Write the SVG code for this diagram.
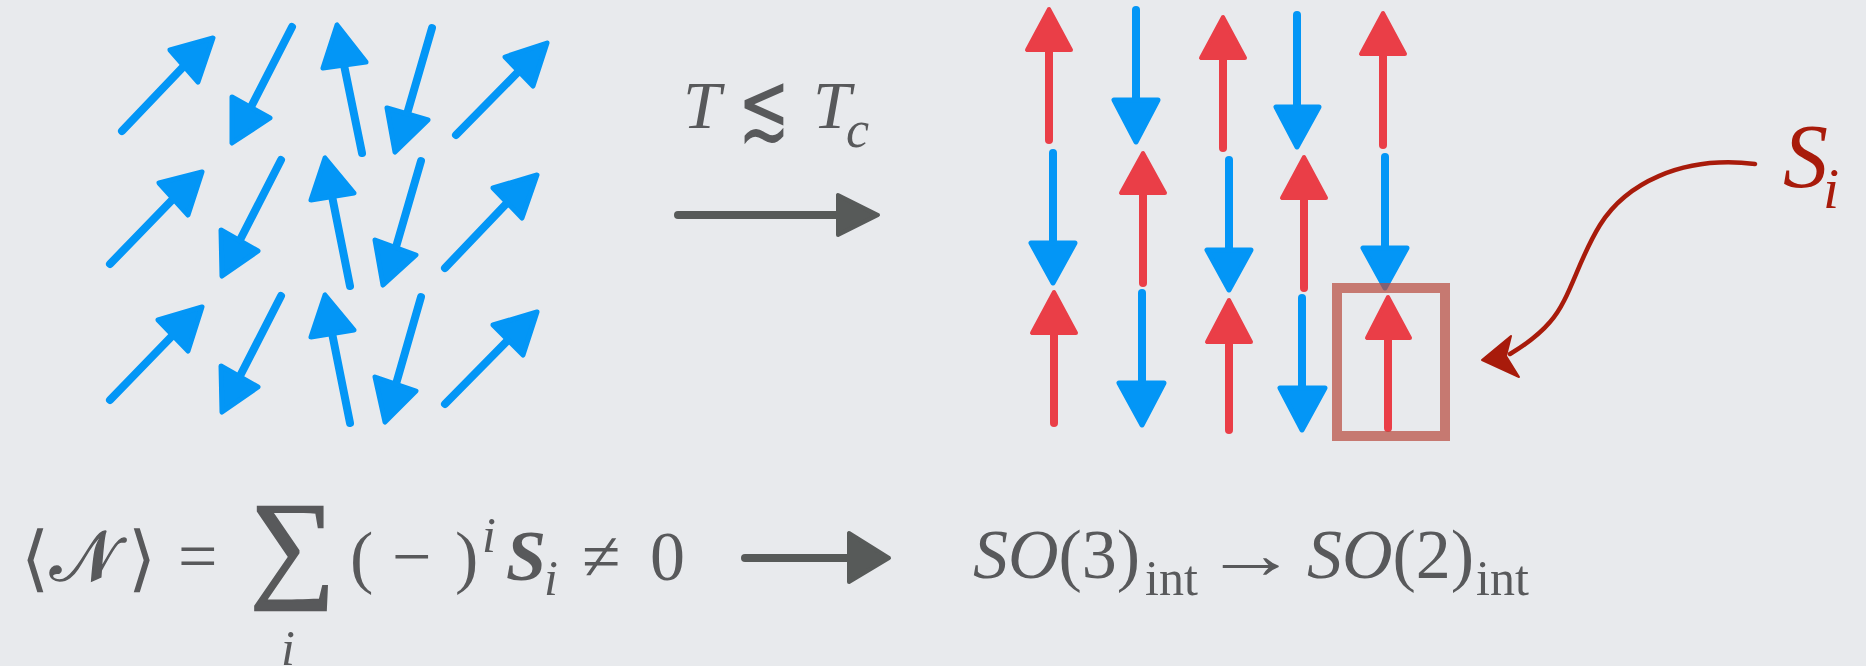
<svg xmlns="http://www.w3.org/2000/svg" width="1866" height="666" viewBox="0 0 1866 666">
<style>
.bl{fill:#0396f6;stroke:#0396f6;stroke-width:5;stroke-linejoin:round}
.bs{stroke:#0396f6;stroke-width:8;stroke-linecap:round;fill:none}
.rd{fill:#ea3e47;stroke:#ea3e47;stroke-width:4;stroke-linejoin:round}
.rs{stroke:#ea3e47;stroke-width:8;stroke-linecap:round;fill:none}
.gy{fill:#575a59;stroke:#575a59;stroke-width:4;stroke-linejoin:round}
.gs{stroke:#575a59;stroke-width:8;stroke-linecap:round;fill:none}
.tx{font-family:"Liberation Serif","DejaVu Serif",serif;fill:#58595b}
.it{font-style:italic}
</style>
<rect width="1866" height="666" fill="#e8eaed"/>

<g id="disordered-spins">
<line class="bs" x1="122" y1="131" x2="184" y2="66"/><polygon class="bl" points="213,38 170,50 198,82"/>
<line class="bs" x1="292" y1="27" x2="251" y2="107"/><polygon class="bl" points="232,143 232,97 270,118"/>
<line class="bs" x1="362" y1="153" x2="344" y2="65"/><polygon class="bl" points="337,25 323,68 366,62"/>
<line class="bs" x1="432" y1="28" x2="407" y2="114"/><polygon class="bl" points="395,152 387,108 428,120"/>
<line class="bs" x1="456" y1="135" x2="519" y2="71"/><polygon class="bl" points="547,43 505,57 533,86"/>

<line class="bs" x1="110" y1="264" x2="173" y2="199"/><polygon class="bl" points="202,172 159,183 188,215"/>
<line class="bs" x1="281" y1="160" x2="240" y2="240"/><polygon class="bl" points="222,276 221,230 258,251"/>
<line class="bs" x1="350" y1="286" x2="332" y2="196"/><polygon class="bl" points="325,158 311,200 354,193"/>
<line class="bs" x1="421" y1="161" x2="396" y2="247"/><polygon class="bl" points="383,285 375,240 416,255"/>
<line class="bs" x1="445" y1="268" x2="507" y2="203"/><polygon class="bl" points="537,175 493,188 522,218"/>

<line class="bs" x1="110" y1="400" x2="173" y2="335"/><polygon class="bl" points="202,307 158,320 188,351"/>
<line class="bs" x1="281" y1="296" x2="240" y2="376"/><polygon class="bl" points="222,412 221,366 258,387"/>
<line class="bs" x1="350" y1="423" x2="332" y2="333"/><polygon class="bl" points="325,295 311,337 354,330"/>
<line class="bs" x1="421" y1="297" x2="396" y2="384"/><polygon class="bl" points="385,422 375,377 416,391"/>
<line class="bs" x1="445" y1="404" x2="508" y2="340"/><polygon class="bl" points="537,312 493,325 523,355"/>
</g>

<g id="label-T">
<text class="tx it" x="683" y="128" font-size="68">T</text>
<text class="tx" transform="translate(764,139) scale(1,1.55)" font-size="62" text-anchor="middle" style="font-family:'DejaVu Serif',serif">≲</text>
<text class="tx it" x="813" y="128" font-size="68">T</text>
<text class="tx it" x="846" y="147" font-size="52">c</text>
</g>

<g id="connectors">
<line class="gs" x1="678" y1="215" x2="840" y2="215"/><polygon class="gy" points="878,215 838,195 838,235"/>
<line class="gs" x1="745" y1="558" x2="850" y2="558"/><polygon class="gy" points="889,558 849,533 849,582"/>
<path d="M1755,164 C1680,155 1625,185 1600,225 C1578,260 1570,300 1550,322 C1538,336 1525,345 1510,354" fill="none" stroke="#a81b0b" stroke-width="4.5" stroke-linecap="round"/>
<polygon points="1482,360 1511,336 1506,356 1519,377" fill="#a81b0b" stroke="#a81b0b" stroke-width="2" stroke-linejoin="round"/>
</g>

<g id="ordered-spins">
<line class="rs" x1="1049" y1="50" x2="1049" y2="140"/><polygon class="rd" points="1049,9 1027,50 1071,50"/>
<line class="bs" x1="1053" y1="153" x2="1053" y2="243"/><polygon class="bl" points="1053,283 1031,243 1075,243"/>
<line class="rs" x1="1054" y1="333" x2="1054" y2="423"/><polygon class="rd" points="1054,292 1032,333 1076,333"/>

<line class="bs" x1="1136" y1="10" x2="1136" y2="100"/><polygon class="bl" points="1136,142 1114,100 1158,100"/>
<line class="rs" x1="1143" y1="193" x2="1143" y2="283"/><polygon class="rd" points="1143,153 1121,193 1165,193"/>
<line class="bs" x1="1142" y1="293" x2="1142" y2="383"/><polygon class="bl" points="1142,425 1119,383 1164,383"/>

<line class="rs" x1="1223" y1="58" x2="1223" y2="148"/><polygon class="rd" points="1223,17 1201,58 1245,58"/>
<line class="bs" x1="1229" y1="160" x2="1229" y2="250"/><polygon class="bl" points="1229,290 1207,250 1251,250"/>
<line class="rs" x1="1229" y1="342" x2="1229" y2="430"/><polygon class="rd" points="1229,300 1207,342 1251,342"/>

<line class="bs" x1="1297" y1="15" x2="1297" y2="107"/><polygon class="bl" points="1297,147 1276,107 1319,107"/>
<line class="rs" x1="1304" y1="198" x2="1304" y2="288"/><polygon class="rd" points="1304,157 1282,198 1326,198"/>
<line class="bs" x1="1302" y1="298" x2="1302" y2="388"/><polygon class="bl" points="1302,430 1280,388 1325,388"/>

<line class="rs" x1="1383" y1="54" x2="1383" y2="145"/><polygon class="rd" points="1383,13 1361,54 1405,54"/>
<line class="bs" x1="1385" y1="157" x2="1385" y2="248"/><polygon class="bl" points="1385,288 1363,248 1407,248"/>
<line class="rs" x1="1388" y1="338" x2="1388" y2="428"/><polygon class="rd" points="1388,297 1367,338 1410,338"/>
</g>

<g id="highlight-box">
<rect x="1337" y="288" width="108" height="148" fill="none" stroke="#b8483c" stroke-opacity="0.7" stroke-width="10"/>
</g>

<g id="label-Si">
<text x="1783" y="187" font-size="90" font-style="italic" style="font-family:'Liberation Serif',serif" fill="#a81b0b">S</text>
<text x="1823" y="208" font-size="58" font-style="italic" style="font-family:'Liberation Serif',serif" fill="#a81b0b">i</text>
</g>

<g id="order-parameter">
<text class="tx" x="21" y="583" font-size="72" style="font-family:'DejaVu Serif',serif">⟨</text>
<text class="tx" x="50" y="580" font-size="70" stroke="#58595b" stroke-width="1.5">𝒩</text>
<text class="tx" x="128" y="583" font-size="72" style="font-family:'DejaVu Serif',serif">⟩</text>
<text class="tx" x="178" y="580" font-size="70">=</text>
<text class="tx" x="250" y="585" font-size="120" stroke="#58595b" stroke-width="2">∑</text>
<text class="tx it" x="281" y="665" font-size="50">i</text>
<text class="tx" x="350" y="580" font-size="70">(</text>
<text class="tx" x="392" y="580" font-size="70">−</text>
<text class="tx" x="455" y="580" font-size="70">)</text>
<text class="tx it" x="482" y="552" font-size="50">i</text>
<text class="tx it" x="506" y="580" font-size="72" font-weight="bold">S</text>
<text class="tx it" x="544" y="595" font-size="50">i</text>
<text class="tx" x="582" y="580" font-size="70">≠</text>
<text class="tx" x="650" y="580" font-size="70">0</text>
</g>

<g id="symmetry-breaking">
<text class="tx" x="973" y="578" font-size="70"><tspan class="it">SO</tspan>(3)</text>
<text class="tx" x="1145" y="595" font-size="50">int</text>
<text class="tx" transform="translate(1251,578) scale(1.35,1)" font-size="70" text-anchor="middle">→</text>
<text class="tx" x="1307" y="578" font-size="70"><tspan class="it">SO</tspan>(2)</text>
<text class="tx" x="1476" y="595" font-size="50">int</text>
</g>
</svg>
